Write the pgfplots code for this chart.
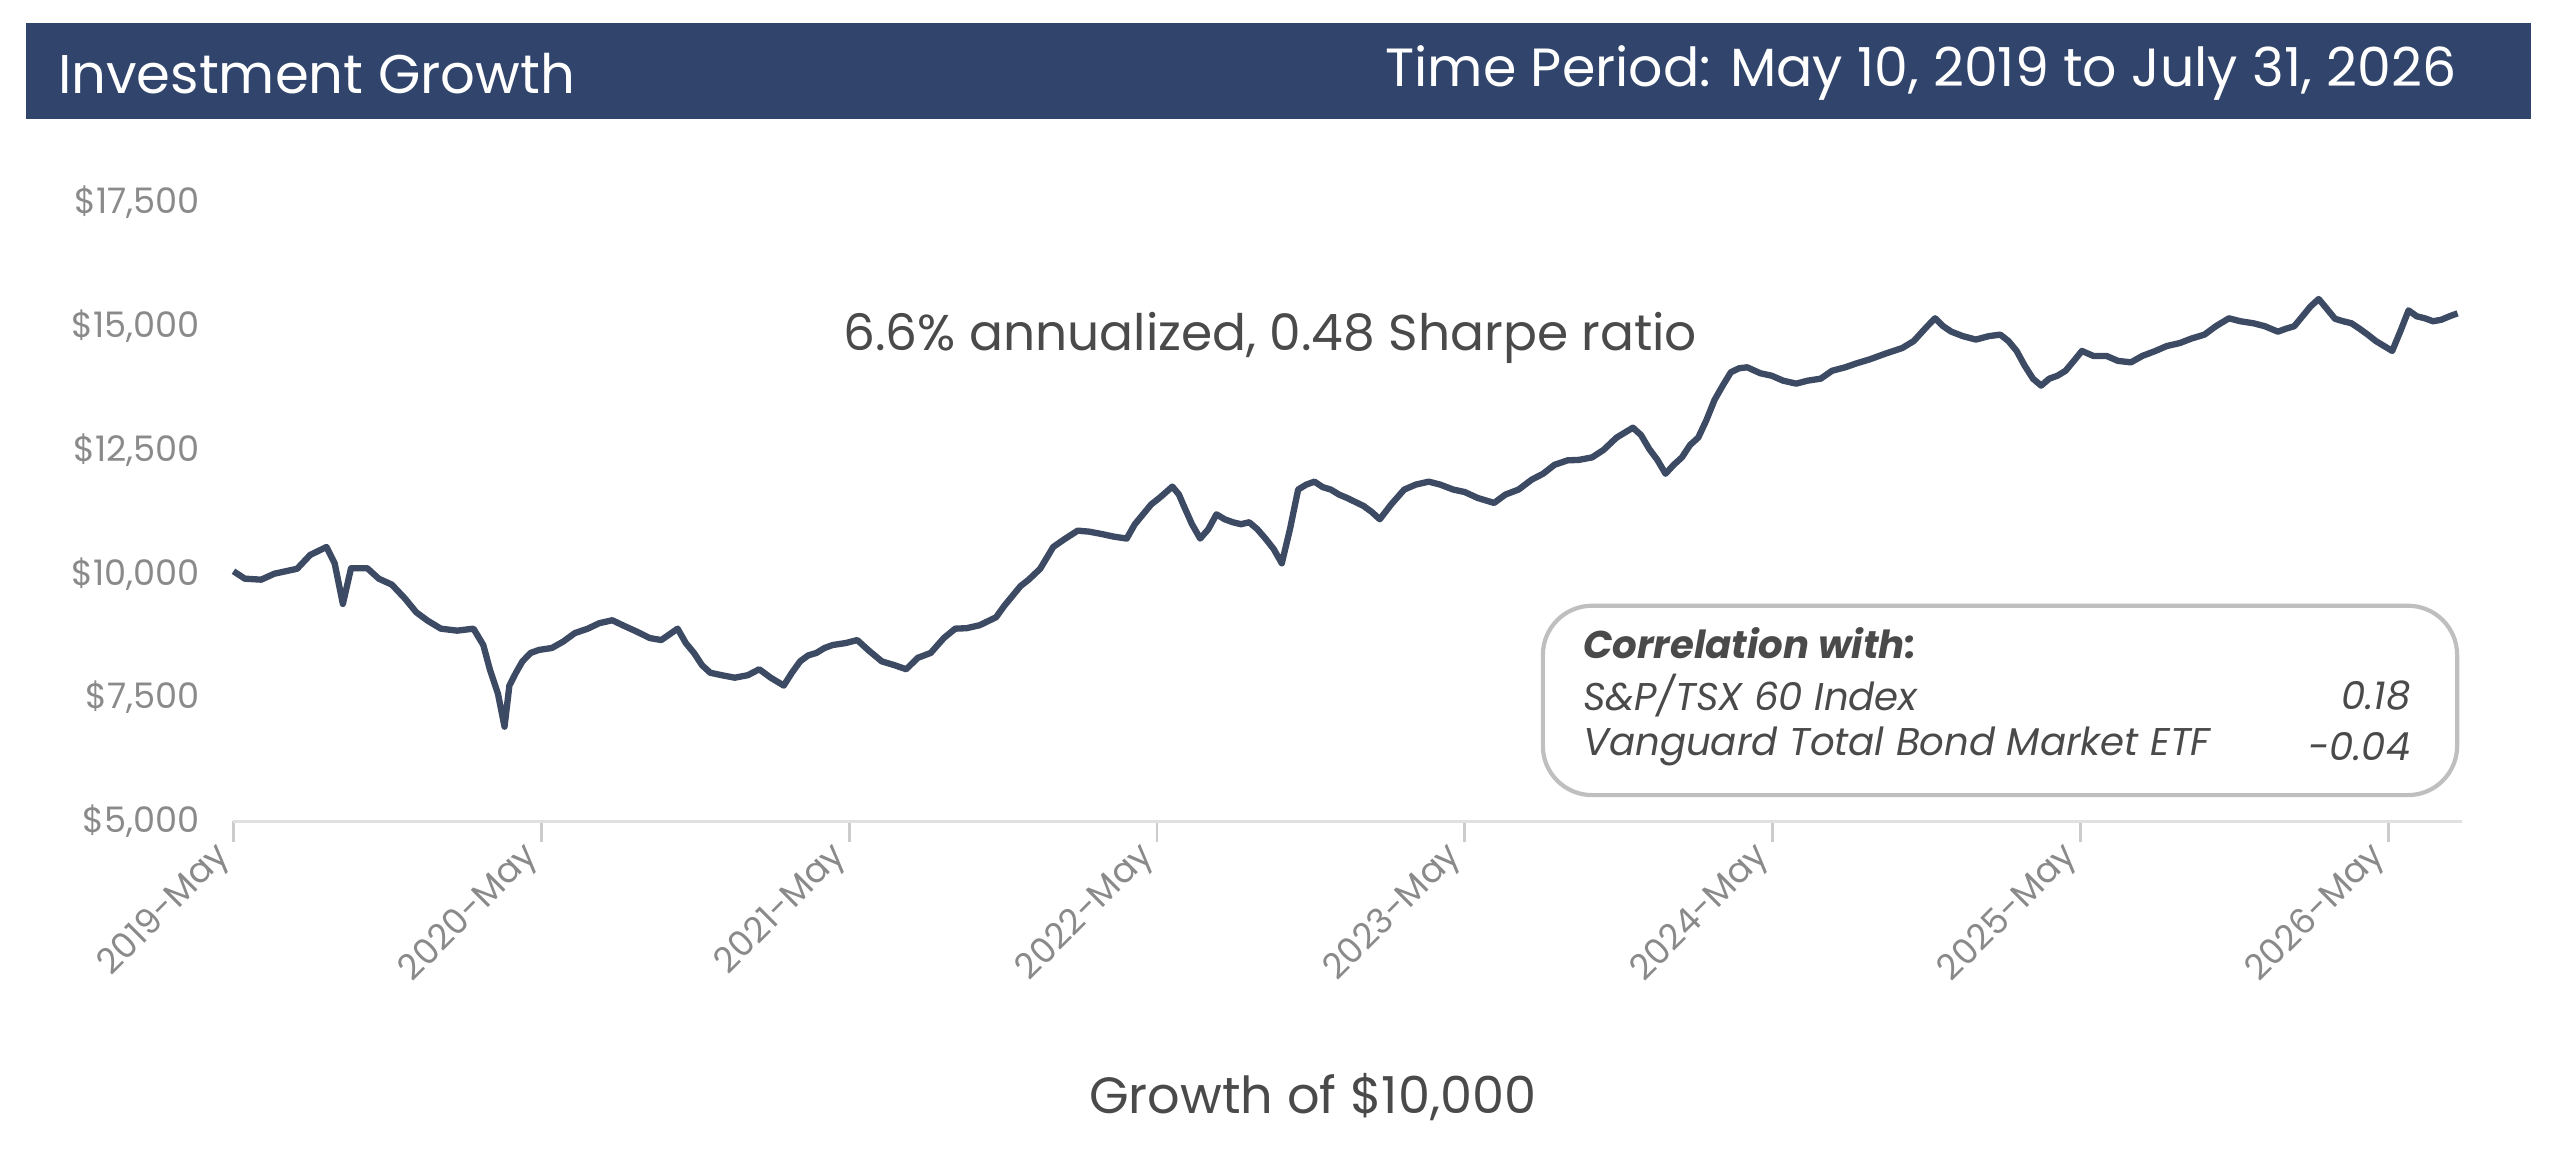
\documentclass[border=0pt]{standalone}
\usepackage{pgfplots}
\pgfplotsset{compat=1.18}
\usepackage{fontspec}
\setmainfont{Poppins}
\definecolor{hdr}{HTML}{31446B}
\definecolor{ln}{HTML}{3D4A63}
\definecolor{tk}{HTML}{8A8A8A}
\definecolor{tx}{HTML}{4A4A4A}
\def\u{0.01633cm}
\begin{document}
\begin{tikzpicture}
\path[use as bounding box] (0,0) rectangle (1568*\u,-713*\u);
\fill[hdr] (16*\u,-14*\u) rectangle (1550*\u,-73*\u);
\node[anchor=west,text=white,font=\fontsize{15.5}{17}\selectfont] at (28*\u,-45*\u) {Investment Growth};
\node[anchor=east,text=white,font=\fontsize{15.3}{17}\selectfont] at (1512*\u,-45*\u) {Time Period: May 10, 2019 to July 31, 2026};
\begin{axis}[at={(143*\u,-503*\u)},anchor=south west,scale only axis,
 width=1365*\u,height=379*\u,
 xmin=2019.33,xmax=2026.57,ymin=5000,ymax=17500,
 x filter/.expression={2019.33+(x-143)/188.5},
 scaled ticks=false,
 axis y line*=left, axis x line*=bottom, y axis line style={draw=none},
 x axis line style={draw=black!12,line width=0.8pt},
 ytick={5000,7500,10000,12500,15000,17500},
 yticklabels={{\$5,000},{\$7,500},{\$10,000},{\$12,500},{\$15,000},{\$17,500}},
 xtick={2019.33,2020.33,2021.33,2022.33,2023.33,2024.33,2025.33,2026.33},
 xticklabels={2019-May,2020-May,2021-May,2022-May,2023-May,2024-May,2025-May,2026-May},
 x tick label style={rotate=45,anchor=east,font=\fontsize{10}{11}\selectfont,text=tk},
 y tick label style={font=\fontsize{10}{11}\selectfont,text=tk},
 ytick style={draw=none}, xtick style={draw=black!20,line width=0.8pt},
 tick align=outside, major tick length=6pt,
 clip=false]
\addplot[ln,line width=1.8pt,line join=round] coordinates {
(143,10050)(150,9900)(160,9880)(168,10000)(175,10050)(182,10100)(190,10380)(200,10540)(205,10210)(210,9390)(215,10110)(225,10110)(232,9900)(240,9780)(248,9500)(255,9220)(262,9050)(270,8890)(280,8850)(290,8890)(296,8560)(300,8070)(305,7570)(309,6910)(312,7740)(316,8000)(320,8230)(325,8400)(330,8460)(338,8500)(345,8630)(352,8800)(360,8890)(367,9000)(375,9060)(382,8950)(390,8830)(398,8700)(405,8660)(415,8890)(420,8600)(425,8400)(430,8150)(435,8000)(442,7950)(450,7900)(458,7950)(465,8070)(472,7900)(480,7740)(485,8000)(490,8230)(495,8350)(500,8400)(505,8500)(510,8560)(518,8600)(525,8660)(532,8450)(540,8230)(548,8150)(555,8070)(562,8300)(570,8400)(578,8700)(585,8890)(592,8900)(600,8960)(610,9120)(615,9350)(620,9550)(625,9750)(630,9880)(637,10100)(645,10540)(652,10700)(660,10870)(667,10850)(675,10800)(682,10750)(690,10710)(695,11000)(700,11200)(705,11400)(710,11530)(718,11760)(722,11600)(725,11370)(730,11000)(735,10710)(740,10900)(745,11200)(750,11100)(755,11040)(760,11000)(765,11040)(770,10900)(775,10710)(780,10500)(785,10210)(790,10900)(795,11700)(800,11800)(805,11860)(810,11750)(815,11700)(820,11600)(825,11530)(830,11450)(835,11370)(840,11250)(845,11100)(852,11400)(860,11700)(867,11800)(875,11860)(882,11800)(890,11700)(897,11650)(905,11530)(910,11480)(915,11430)(922,11600)(930,11700)(938,11900)(945,12020)(952,12200)(960,12290)(967,12300)(975,12350)(982,12500)(990,12750)(995,12850)(1000,12950)(1005,12800)(1010,12520)(1015,12300)(1020,12020)(1025,12200)(1030,12350)(1035,12600)(1040,12750)(1045,13100)(1050,13510)(1055,13800)(1060,14070)(1065,14150)(1070,14170)(1078,14050)(1085,14000)(1092,13900)(1100,13840)(1107,13900)(1115,13940)(1122,14100)(1130,14170)(1137,14250)(1145,14330)(1155,14450)(1165,14560)(1172,14700)(1180,14990)(1185,15160)(1190,15000)(1195,14890)(1202,14800)(1210,14730)(1218,14800)(1225,14830)(1230,14700)(1235,14500)(1240,14200)(1245,13940)(1250,13800)(1255,13940)(1260,14000)(1265,14100)(1270,14300)(1275,14500)(1282,14400)(1290,14400)(1297,14300)(1305,14270)(1312,14400)(1320,14500)(1327,14600)(1335,14660)(1342,14750)(1350,14830)(1357,15000)(1365,15160)(1372,15100)(1380,15060)(1387,15000)(1395,14890)(1400,14950)(1405,15000)(1410,15200)(1415,15400)(1420,15550)(1425,15350)(1430,15150)(1435,15100)(1440,15060)(1445,14950)(1450,14830)(1455,14700)(1460,14600)(1465,14500)(1470,14900)(1475,15320)(1480,15200)(1485,15160)(1490,15100)(1495,15130)(1500,15200)(1505,15260)
};
\end{axis}
\node[text=tx,font=\fontsize{14.3}{16}\selectfont] at (778*\u,-207*\u) {6.6\% annualized, 0.48 Sharpe ratio};
\node[text=tx,font=\fontsize{14.5}{16}\selectfont] at (804*\u,-672*\u) {Growth of \$10,000};
\draw[black!25,line width=1.2pt,rounded corners=14pt,fill=white] (945*\u,-371*\u) rectangle (1505*\u,-487*\u);
\node[anchor=west,text=tx,font=\fontsize{11}{13}\selectfont\bfseries\itshape] at (962*\u,-394*\u) {Correlation with:};
\node[anchor=west,text=tx,font=\fontsize{11}{13}\selectfont\itshape] at (962*\u,-426*\u) {S\&P/TSX 60 Index};
\node[anchor=east,text=tx,font=\fontsize{11}{13}\selectfont\itshape] at (1484*\u,-426*\u) {0.18};
\node[anchor=west,text=tx,font=\fontsize{11}{13}\selectfont\itshape] at (962*\u,-457*\u) {Vanguard Total Bond Market ETF};
\node[anchor=east,text=tx,font=\fontsize{11}{13}\selectfont\itshape] at (1484*\u,-457*\u) {-0.04};
\end{tikzpicture}
\end{document}
